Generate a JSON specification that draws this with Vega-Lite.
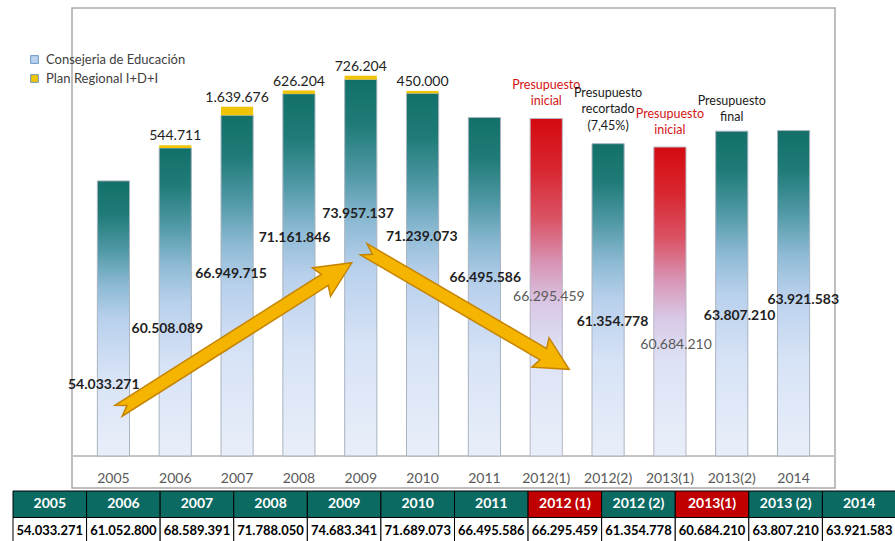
{
  "$schema": "https://vega.github.io/schema/vega-lite/v6.json",
  "background": "white",
  "padding": {"left": 12, "top": 7, "right": 0, "bottom": 0},
  "spacing": 1,
  "resolve": {"scale": {"fill": "independent"}, "legend": {"fill": "independent"}},
  "config": {
    "font": "Lato",
    "locale": {"number": {"decimal": ",", "thousands": ".", "grouping": [3], "currency": ["", " €"]}},
    "concat": {"spacing": 1}
  },
  "datasets": {
    "presupuesto": [
      {"anio": "2005", "col": "2005", "cons": 54033271, "plan": 0, "total": 54033271, "tipo": "normal"},
      {"anio": "2006", "col": "2006", "cons": 60508089, "plan": 544711, "total": 61052800, "tipo": "normal"},
      {"anio": "2007", "col": "2007", "cons": 66949715, "plan": 1639676, "total": 68589391, "tipo": "normal"},
      {"anio": "2008", "col": "2008", "cons": 71161846, "plan": 626204, "total": 71788050, "tipo": "normal"},
      {"anio": "2009", "col": "2009", "cons": 73957137, "plan": 726204, "total": 74683341, "tipo": "normal"},
      {"anio": "2010", "col": "2010", "cons": 71239073, "plan": 450000, "total": 71689073, "tipo": "normal"},
      {"anio": "2011", "col": "2011", "cons": 66495586, "plan": 0, "total": 66495586, "tipo": "normal"},
      {"anio": "2012(1)", "col": "2012 (1)", "cons": 66295459, "plan": 0, "total": 66295459, "tipo": "inicial", "nota": ["Presupuesto", "inicial"]},
      {"anio": "2012(2)", "col": "2012 (2)", "cons": 61354778, "plan": 0, "total": 61354778, "tipo": "recortado", "nota": ["Presupuesto", "recortado", "(7,45%)"]},
      {"anio": "2013(1)", "col": "2013(1)", "cons": 60684210, "plan": 0, "total": 60684210, "tipo": "inicial", "nota": ["Presupuesto", "inicial"]},
      {"anio": "2013(2)", "col": "2013 (2)", "cons": 63807210, "plan": 0, "total": 63807210, "tipo": "final", "nota": ["Presupuesto", "final"]},
      {"anio": "2014", "col": "2014", "cons": 63921583, "plan": 0, "total": 63921583, "tipo": "normal"}
    ],
    "flechas": [
      {"flecha": "subida", "posicion": 1.97, "importe": 23420000},
      {"flecha": "bajada", "posicion": 5.71, "importe": 28820000}
    ],
    "vacio": [{"v": ""}]
  },
  "vconcat": [
    {
      "spacing": 0,
      "hconcat": [
        {
          "width": 54,
          "height": 480,
          "view": {"stroke": null},
          "data": {"name": "vacio"},
          "mark": {"type": "text"},
          "encoding": {"text": {"field": "v"}}
        },
        {
          "width": 763,
          "height": 480,
          "view": {"stroke": "#a9a9a9", "strokeWidth": 1.5},
          "resolve": {"scale": {"x": "independent", "y": "independent"}},
          "layer": [
            {
              "data": {"name": "presupuesto"},
              "layer": [
                {
                  "mark": {"type": "rule", "color": "#c4c4c4", "strokeWidth": 1},
                  "encoding": {
                    "y": {"datum": 0, "type": "quantitative", "title": null, "axis": null,
                      "scale": {"domain": [-6290000, 88000000], "nice": false, "zero": false}}
                  }
                },
                {
                  "transform": [{"filter": "datum.tipo != 'inicial'"}],
                  "mark": {"type": "bar", "stroke": "#a9b4bf", "strokeWidth": 1,
                    "fill": {"gradient": "linear", "x1": 0, "y1": 0, "x2": 0, "y2": 1,
                      "stops": [
                        {"offset": 0, "color": "#127069"},
                        {"offset": 0.12, "color": "#1f7b77"},
                        {"offset": 0.25, "color": "#4f98a5"},
                        {"offset": 0.38, "color": "#8dbad4"},
                        {"offset": 0.5, "color": "#b8d0ec"},
                        {"offset": 0.7, "color": "#d6e2f6"},
                        {"offset": 1, "color": "#e9eff9"}
                      ]}},
                  "encoding": {
                    "x": {"field": "anio", "type": "nominal", "title": null,
                      "scale": {"domain": ["2005", "2006", "2007", "2008", "2009", "2010", "2011", "2012(1)", "2012(2)", "2013(1)", "2013(2)", "2014"], "paddingInner": 0.48, "paddingOuter": 0.41},
                      "axis": {"orient": "bottom", "offset": -19, "domain": false, "ticks": false, "labelPadding": 2, "labelAngle": 0, "labelFont": "Lato", "labelFontSize": 14, "labelColor": "#595959", "title": null}},
                    "y": {"field": "cons", "type": "quantitative", "title": null, "scale": {"domain": [-6290000, 88000000], "nice": false, "zero": false}}
                  }
                },
                {
                  "transform": [{"filter": "datum.tipo == 'inicial'"}],
                  "mark": {"type": "bar", "stroke": "#b9b4c4", "strokeWidth": 1,
                    "fill": {"gradient": "linear", "x1": 0, "y1": 0, "x2": 0, "y2": 1,
                      "stops": [
                        {"offset": 0, "color": "#d40a0f"},
                        {"offset": 0.15, "color": "#d82630"},
                        {"offset": 0.3, "color": "#da5466"},
                        {"offset": 0.42, "color": "#d890b0"},
                        {"offset": 0.55, "color": "#d9c8e6"},
                        {"offset": 0.7, "color": "#dde3f5"},
                        {"offset": 1, "color": "#e9eff9"}
                      ]}},
                  "encoding": {
                    "x": {"field": "anio", "type": "nominal", "title": null, "scale": {"domain": ["2005", "2006", "2007", "2008", "2009", "2010", "2011", "2012(1)", "2012(2)", "2013(1)", "2013(2)", "2014"], "paddingInner": 0.48, "paddingOuter": 0.41}},
                    "y": {"field": "cons", "type": "quantitative", "title": null, "scale": {"domain": [-6290000, 88000000], "nice": false, "zero": false}}
                  }
                },
                {
                  "transform": [{"filter": "datum.plan > 0"}],
                  "mark": {"type": "bar"},
                  "encoding": {
                    "x": {"field": "anio", "type": "nominal", "title": null, "scale": {"domain": ["2005", "2006", "2007", "2008", "2009", "2010", "2011", "2012(1)", "2012(2)", "2013(1)", "2013(2)", "2014"], "paddingInner": 0.48, "paddingOuter": 0.41}},
                    "y": {"field": "cons", "type": "quantitative", "title": null, "scale": {"domain": [-6290000, 88000000], "nice": false, "zero": false}},
                    "y2": {"field": "total"},
                    "fill": {"datum": "Plan Regional I+D+I", "type": "nominal",
                      "scale": {"domain": ["Consejeria de Educación", "Plan Regional I+D+I"], "range": ["#b9d3ee", "#f0c400"]},
                      "legend": {"orient": "none", "legendX": 15, "legendY": 45, "title": null, "symbolType": "square", "symbolSize": 60, "symbolStrokeColor": "#6a96c4", "symbolStrokeWidth": 1, "labelFont": "Lato", "labelFontSize": 13, "labelColor": "#404040", "rowPadding": 5, "labelOffset": 5}}
                  }
                },
                {
                  "transform": [{"filter": "datum.plan > 0"}],
                  "mark": {"type": "text", "baseline": "bottom", "dy": -2, "font": "Lato", "fontSize": 14, "color": "#222222"},
                  "encoding": {
                    "x": {"field": "anio", "type": "nominal", "title": null, "scale": {"domain": ["2005", "2006", "2007", "2008", "2009", "2010", "2011", "2012(1)", "2012(2)", "2013(1)", "2013(2)", "2014"], "paddingInner": 0.48, "paddingOuter": 0.41}},
                    "y": {"field": "total", "type": "quantitative", "title": null, "scale": {"domain": [-6290000, 88000000], "nice": false, "zero": false}},
                    "text": {"field": "plan", "type": "quantitative", "format": ",d"}
                  }
                },
                {
                  "transform": [{"filter": "datum.tipo == 'inicial'"}],
                  "mark": {"type": "text", "baseline": "bottom", "dy": -26.5, "lineHeight": 16.5, "font": "Lato", "fontSize": 12.5, "color": "#d21414"},
                  "encoding": {
                    "x": {"field": "anio", "type": "nominal", "title": null, "scale": {"domain": ["2005", "2006", "2007", "2008", "2009", "2010", "2011", "2012(1)", "2012(2)", "2013(1)", "2013(2)", "2014"], "paddingInner": 0.48, "paddingOuter": 0.41}},
                    "y": {"field": "total", "type": "quantitative", "title": null, "scale": {"domain": [-6290000, 88000000], "nice": false, "zero": false}},
                    "text": {"field": "nota"}
                  }
                },
                {
                  "transform": [{"filter": "datum.tipo == 'recortado'"}],
                  "mark": {"type": "text", "baseline": "bottom", "dy": -44, "lineHeight": 16.5, "font": "Lato", "fontSize": 12.5, "color": "#1a1a1a"},
                  "encoding": {
                    "x": {"field": "anio", "type": "nominal", "title": null, "scale": {"domain": ["2005", "2006", "2007", "2008", "2009", "2010", "2011", "2012(1)", "2012(2)", "2013(1)", "2013(2)", "2014"], "paddingInner": 0.48, "paddingOuter": 0.41}},
                    "y": {"field": "total", "type": "quantitative", "title": null, "scale": {"domain": [-6290000, 88000000], "nice": false, "zero": false}},
                    "text": {"field": "nota"}
                  }
                },
                {
                  "transform": [{"filter": "datum.tipo == 'final'"}],
                  "mark": {"type": "text", "baseline": "bottom", "dy": -23.5, "lineHeight": 16.5, "font": "Lato", "fontSize": 12.5, "color": "#1a1a1a"},
                  "encoding": {
                    "x": {"field": "anio", "type": "nominal", "title": null, "scale": {"domain": ["2005", "2006", "2007", "2008", "2009", "2010", "2011", "2012(1)", "2012(2)", "2013(1)", "2013(2)", "2014"], "paddingInner": 0.48, "paddingOuter": 0.41}},
                    "y": {"field": "total", "type": "quantitative", "title": null, "scale": {"domain": [-6290000, 88000000], "nice": false, "zero": false}},
                    "text": {"field": "nota"}
                  }
                }
              ]
            },
            {
              "data": {"name": "presupuesto"},
              "layer": [
                {
                  "transform": [{"filter": "datum.tipo == 'normal' || datum.tipo == 'recortado'"}],
                  "mark": {"type": "text", "baseline": "middle", "dy": -3, "font": "Lato", "fontSize": 14, "fontWeight": "bold", "color": "#1f1f1f"},
                  "encoding": {
                    "x": {"field": "anio", "type": "nominal", "axis": null, "scale": {"domain": ["2005", "2006", "2007", "2008", "2009", "2010", "2011", "2012(1)", "2012(2)", "2013(1)", "2013(2)", "2014"], "paddingInner": 0.48, "paddingOuter": 0.41}},
                    "y": {"field": "cons", "type": "quantitative", "axis": null, "scale": {"domain": [42470000, 98150000], "nice": false, "zero": false}},
                    "text": {"field": "cons", "type": "quantitative", "format": ",d"}
                  }
                },
                {
                  "transform": [{"filter": "datum.tipo == 'final'"}],
                  "mark": {"type": "text", "baseline": "middle", "dy": 12, "font": "Lato", "fontSize": 14, "fontWeight": "bold", "color": "#1f1f1f"},
                  "encoding": {
                    "x": {"field": "anio", "type": "nominal", "axis": null, "scale": {"domain": ["2005", "2006", "2007", "2008", "2009", "2010", "2011", "2012(1)", "2012(2)", "2013(1)", "2013(2)", "2014"], "paddingInner": 0.48, "paddingOuter": 0.41}},
                    "y": {"field": "cons", "type": "quantitative", "axis": null, "scale": {"domain": [42470000, 98150000], "nice": false, "zero": false}},
                    "text": {"field": "cons", "type": "quantitative", "format": ",d"}
                  }
                },
                {
                  "transform": [{"filter": "datum.tipo == 'inicial'"}],
                  "mark": {"type": "text", "baseline": "middle", "dy": 14, "font": "Lato", "fontSize": 14, "color": "#5a5a5a"},
                  "encoding": {
                    "x": {"field": "anio", "type": "nominal", "axis": null, "scale": {"domain": ["2005", "2006", "2007", "2008", "2009", "2010", "2011", "2012(1)", "2012(2)", "2013(1)", "2013(2)", "2014"], "paddingInner": 0.48, "paddingOuter": 0.41}},
                    "y": {"field": "cons", "type": "quantitative", "axis": null, "scale": {"domain": [42470000, 98150000], "nice": false, "zero": false}},
                    "text": {"field": "cons", "type": "quantitative", "format": ",d"}
                  }
                }
              ]
            },
            {
              "data": {"name": "flechas"},
              "layer": [
                {
                  "transform": [{"filter": "datum.flecha == 'subida'"}],
                  "mark": {"type": "point", "filled": true, "opacity": 1, "fill": "#f4b400", "stroke": "#c58400", "strokeWidth": 1.5,
                    "shape": "M -1 -0.047 L 0.768 -0.047 L 0.74 -0.123 L 1 0 L 0.74 0.123 L 0.768 0.047 L -1 0.047 L -0.928 0 Z",
                    "size": 76176, "angle": -32.4},
                  "encoding": {
                    "x": {"field": "posicion", "type": "quantitative", "axis": null, "scale": {"domain": [-0.67, 11.67], "nice": false, "zero": false}},
                    "y": {"field": "importe", "type": "quantitative", "axis": null, "scale": {"domain": [-6290000, 88000000], "nice": false, "zero": false}}
                  }
                },
                {
                  "transform": [{"filter": "datum.flecha == 'bajada'"}],
                  "mark": {"type": "point", "filled": true, "opacity": 1, "fill": "#f4b400", "stroke": "#c58400", "strokeWidth": 1.5,
                    "shape": "M -1 -0.055 L 0.748 -0.055 L 0.72 -0.143 L 1 0 L 0.72 0.143 L 0.748 0.055 L -1 0.055 L -0.916 0 Z",
                    "size": 56644, "angle": 30.3},
                  "encoding": {
                    "x": {"field": "posicion", "type": "quantitative", "axis": null, "scale": {"domain": [-0.67, 11.67], "nice": false, "zero": false}},
                    "y": {"field": "importe", "type": "quantitative", "axis": null, "scale": {"domain": [-6290000, 88000000], "nice": false, "zero": false}}
                  }
                }
              ]
            }
          ]
        }
      ]
    },
    {
      "width": 883,
      "height": 53,
      "view": {"stroke": null},
      "data": {"name": "presupuesto"},
      "layer": [
        {
          "mark": {"type": "rect", "stroke": "#000000", "strokeWidth": 1},
          "encoding": {
            "x": {"field": "col", "type": "nominal", "sort": null, "axis": null, "scale": {"paddingInner": 0, "paddingOuter": 0}},
            "y": {"datum": "enc", "type": "nominal", "axis": null, "scale": {"domain": ["enc", "val"], "paddingInner": 0, "paddingOuter": 0}},
            "fill": {"field": "tipo", "type": "nominal", "legend": null, "scale": {"domain": ["normal", "inicial", "recortado", "final"], "range": ["#0b6b63", "#c00000", "#0b6b63", "#0b6b63"]}}
          }
        },
        {
          "mark": {"type": "rect", "stroke": "#000000", "strokeWidth": 1, "fill": "#ffffff"},
          "encoding": {
            "x": {"field": "col", "type": "nominal", "sort": null, "axis": null, "scale": {"paddingInner": 0, "paddingOuter": 0}},
            "y": {"datum": "val", "type": "nominal", "axis": null, "scale": {"domain": ["enc", "val"], "paddingInner": 0, "paddingOuter": 0}}
          }
        },
        {
          "mark": {"type": "text", "font": "Lato", "fontSize": 14, "fontWeight": "bold", "color": "#ffffff"},
          "encoding": {
            "x": {"field": "col", "type": "nominal", "sort": null, "axis": null},
            "y": {"datum": "enc", "type": "nominal", "axis": null},
            "text": {"field": "col"}
          }
        },
        {
          "mark": {"type": "text", "font": "Lato", "fontSize": 13, "fontWeight": "bold", "color": "#000000"},
          "encoding": {
            "x": {"field": "col", "type": "nominal", "sort": null, "axis": null},
            "y": {"datum": "val", "type": "nominal", "axis": null},
            "text": {"field": "total", "type": "quantitative", "format": ",d"}
          }
        }
      ]
    }
  ]
}
